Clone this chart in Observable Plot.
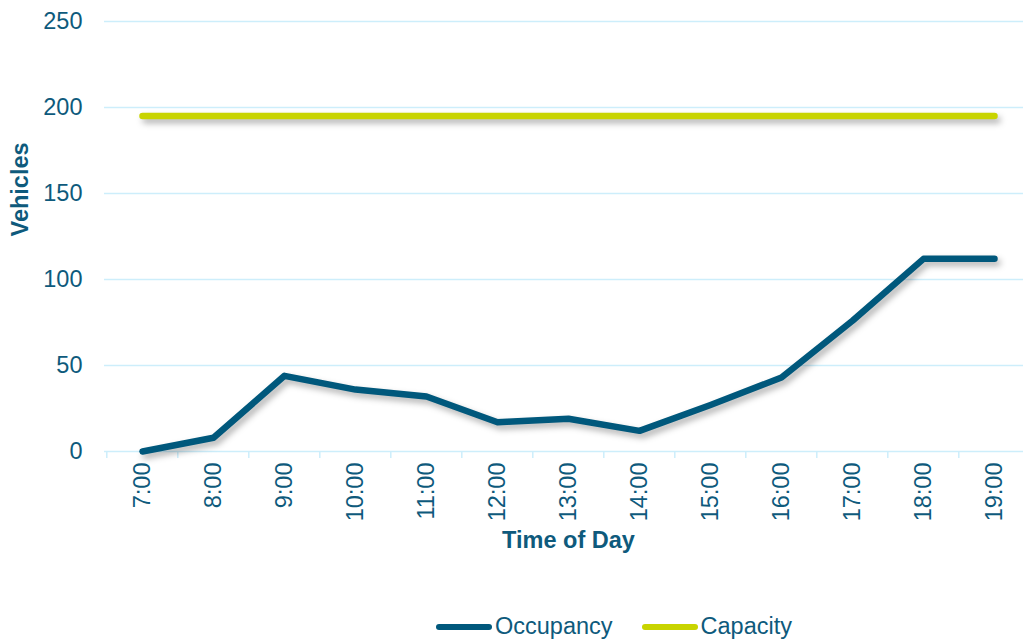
<!DOCTYPE html>
<html>
<head>
<meta charset="utf-8">
<script src="https://cdn.jsdelivr.net/npm/d3@7"></script>
<script src="https://cdn.jsdelivr.net/npm/@observablehq/plot@0.6"></script>
<style>
  html, body { margin: 0; padding: 0; background: #fff; overflow: hidden; width: 1023px; height: 640px; }
  body { font-family: Arial, "Liberation Sans", sans-serif; position: relative; }
  #chart { width: 1023px; overflow: hidden; }
  #chart svg { display: block; max-width: none !important; width: 1032px !important; height: 580px !important; }
  #chart g[aria-label="line"] { filter: drop-shadow(3px 4px 3px rgba(0,0,0,0.3)); }
  .legend { position: absolute; left: 436px; top: 613px; display: flex; align-items: center; font-size: 23.5px; color: #0e5a7c; white-space: nowrap; }
  .legend .item { display: flex; align-items: center; margin-right: 29px; }
  .legend .sw { width: 56px; height: 6px; border-radius: 3px; margin-right: 3px; }
</style>
</head>
<body>
<div id="chart"></div>
<div class="legend">
  <div class="item"><span class="sw" style="background:#00587c"></span><span>Occupancy</span></div>
  <div class="item"><span class="sw" style="background:#c8d400"></span><span>Capacity</span></div>
</div>
<script>
const times = ["7:00","8:00","9:00","10:00","11:00","12:00","13:00","14:00","15:00","16:00","17:00","18:00","19:00"];
const occupancy = [0, 8, 44, 36, 32, 17, 19, 12, 27, 43, 76, 112, 112];
const capacity = [195, 195, 195, 195, 195, 195, 195, 195, 195, 195, 195, 195, 195];
const yTicks = [0, 50, 100, 150, 200, 250];

const occData = times.map((t, i) => ({time: t, value: occupancy[i]}));
const capData = times.map((t, i) => ({time: t, value: capacity[i]}));

const textColor = "#0e5a7c";
const gridColor = "#cdeefb";

const chart = Plot.plot({
  width: 1032,
  height: 580,
  marginLeft: 104,
  marginRight: 0,
  marginTop: 21,
  marginBottom: 129,
  style: {fontFamily: "Arial, 'Liberation Sans', sans-serif", fontSize: "23.5px", color: textColor, background: "transparent", overflow: "visible"},
  x: {type: "point", domain: times, padding: 0.5},
  y: {domain: [0, 250]},
  marks: [
    Plot.gridY(yTicks, {stroke: gridColor, strokeOpacity: 1, strokeWidth: 1.5}),
    Plot.axisY(yTicks, {tickSize: 0, tickPadding: 22, label: null, fill: textColor, fontSize: 23.5}),
    Plot.axisX({tickSize: 7, dx: -928 / 13 / 2, stroke: gridColor, strokeWidth: 1.5, text: null, label: null}),
    Plot.axisX({tickSize: 0, tickPadding: 11, tickRotate: -90, label: null, fill: textColor, fontSize: 23.5}),
    Plot.line(capData, {x: "time", y: "value", stroke: "#c8d400", strokeWidth: 6.5, strokeLinecap: "round", strokeLinejoin: "round"}),
    Plot.line(occData, {x: "time", y: "value", stroke: "#00587c", strokeWidth: 6.5, strokeLinecap: "round", strokeLinejoin: "round"}),
    Plot.text(["Vehicles"], {frameAnchor: "left", dx: -84, rotate: -90, fontWeight: "bold", fontSize: 23.5, fill: textColor}),
    Plot.text(["Time of Day"], {frameAnchor: "bottom", dy: 96, fontWeight: "bold", fontSize: 23.5, fill: textColor})
  ]
});
document.getElementById("chart").append(chart);
</script>
</body>
</html>
